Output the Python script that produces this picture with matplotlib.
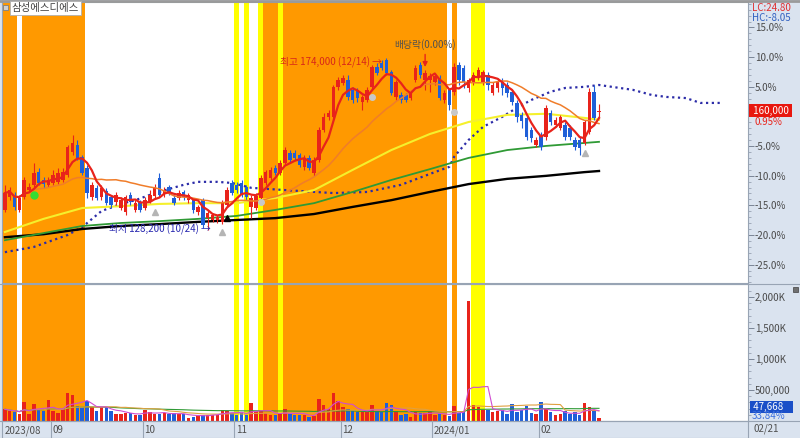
import numpy as np
import pandas as pd
import matplotlib
matplotlib.use("Agg")
import matplotlib.pyplot as plt
import matplotlib.transforms as mtransforms
from matplotlib.lines import Line2D
from matplotlib.patches import Rectangle

plt.rcParams['font.family'] = ['Noto Sans CJK KR', 'DejaVu Sans']

NAME = "삼성에스디에스"
LAST_CLOSE = 160000
CHANGE_PCT = 0.95
LAST_VOLUME_TEXT = "47,668"
VOLUME_RATIO_TEXT = "33.84%"
LC_TEXT = "LC:24.80"
HC_TEXT = "HC:-8.05"
LAST_DATE = "02/21"

# daily candles 2023/08/18 .. 2024/02/21 (KRW)
OPEN = [133500, 136900, 137500, 133500, 136900, 138800, 140200, 143600, 141500, 140200,
        140700, 141000, 141500, 142800, 149000, 150900, 147700, 144700, 136900, 139400,
        136900, 138600, 136900, 135600, 134000, 132900, 137500, 133500, 135600, 134000,
        135600, 137200, 142000, 137700, 139600, 136700, 136700, 138300, 136100, 136100,
        132900, 136100, 131300, 130800, 130800, 130300, 134800, 140700, 140200, 140700,
        139600, 134300, 134000, 136700, 140700, 142000, 144700, 143400, 146000, 148700,
        148700, 148200, 145000, 147400, 143400, 146800, 154900, 158400, 158400, 166400,
        167500, 168300, 165600, 165600, 162400, 162900, 166400, 171700, 172800, 173600,
        170400, 163700, 164200, 164200, 163400, 168300, 172300, 168300, 168300, 167700,
        168800, 162900, 165600, 165100, 172300, 171500, 166100, 167700, 169100, 167700,
        169600, 164800, 166100, 167700, 166900, 165100, 162100, 158900, 158100, 154900,
        150900, 153500, 153000, 159400, 156200, 155400, 156200, 155400, 152200, 152200,
        151400, 154300, 165100, 159700]
HIGH = [140200, 139600, 138300, 137500, 142300, 140700, 146000, 144700, 142300, 142300,
        144200, 144700, 144700, 150900, 153500, 152200, 148200, 145500, 141000, 140200,
        140200, 139400, 137500, 138300, 136900, 137500, 138300, 136100, 136100, 136900,
        138800, 140400, 143400, 139600, 140200, 137500, 138800, 138800, 138000, 136700,
        134800, 136700, 133500, 132700, 132100, 136100, 139600, 141500, 141000, 141500,
        140200, 137500, 138000, 142800, 144200, 145000, 145500, 146800, 150300, 149500,
        149500, 148700, 148200, 148200, 147700, 155700, 159400, 160200, 166900, 169100,
        169600, 169600, 166400, 166100, 164200, 166400, 172300, 172800, 173600, 174000,
        170900, 168300, 165100, 164800, 165600, 172300, 173100, 170900, 170100, 170100,
        169600, 165600, 166100, 172800, 173100, 172300, 168800, 170400, 171700, 170900,
        170400, 167700, 168800, 168800, 167700, 165600, 162900, 159700, 158900, 155700,
        153000, 154300, 161600, 160200, 158400, 158900, 157000, 156200, 153000, 153000,
        157600, 166100, 166900, 161800]
LOW = [132900, 136100, 133500, 132900, 136400, 138300, 139600, 140200, 139400, 139600,
       140200, 140400, 141000, 142300, 148200, 146800, 142800, 136700, 136100, 136100,
       136100, 134800, 134000, 134800, 133500, 132100, 134800, 132900, 132900, 133500,
       135300, 136700, 136900, 136900, 137500, 134800, 136100, 136100, 135300, 132700,
       132100, 128600, 128200, 130300, 130000, 129700, 134300, 137500, 138000, 136900,
       136100, 131300, 133500, 136100, 140200, 141500, 142800, 142800, 145500, 146000,
       146800, 145000, 144200, 144200, 142600, 146300, 154300, 157600, 157600, 165600,
       166900, 162900, 162100, 162400, 160200, 162400, 165600, 169600, 170900, 169600,
       164200, 162900, 162100, 162400, 162900, 167700, 168800, 165600, 165100, 166900,
       162900, 162100, 160200, 164200, 166900, 166100, 165100, 166900, 168300, 166900,
       165600, 164200, 165100, 164200, 163700, 161600, 157000, 155400, 152200, 151700,
       150300, 149500, 152200, 156200, 155700, 154900, 152200, 152200, 149500, 148200,
       150900, 153800, 157600, 158100]
CLOSE = [138000, 138800, 134300, 136700, 141500, 139600, 143400, 140700, 140400, 141500,
         142800, 143400, 143600, 150300, 151400, 147400, 143400, 138000, 140200, 136700,
         139400, 135300, 134800, 137500, 136100, 136900, 135600, 135300, 133500, 136100,
         137500, 139400, 137500, 138800, 138000, 135300, 138000, 136900, 137500, 133500,
         134300, 129400, 132700, 132100, 131600, 135600, 138800, 138000, 138800, 137500,
         136900, 136700, 137200, 142000, 143600, 144200, 143400, 146000, 149500, 146800,
         147400, 145500, 147400, 144700, 146800, 154900, 158400, 159400, 166400, 168300,
         168800, 163700, 162900, 163400, 163700, 165600, 171700, 170100, 171500, 170100,
         164800, 167700, 162900, 162900, 165100, 171500, 169600, 170100, 169300, 169300,
         163400, 164800, 161600, 171700, 168300, 167700, 168300, 169600, 170900, 170400,
         166900, 166900, 167700, 166100, 164800, 162400, 158400, 157300, 153000, 152700,
         152200, 150300, 160800, 157000, 157600, 158400, 153000, 153000, 150300, 150100,
         157000, 165100, 158100, 160000]
VOLUME = [190000, 160000, 145000, 110000, 300000, 110000, 270000, 180000, 160000, 340000,
          160000, 130000, 190000, 450000, 420000, 240000, 220000, 320000, 220000, 160000,
          220000, 220000, 160000, 110000, 110000, 130000, 130000, 100000, 100000, 180000,
          150000, 110000, 110000, 130000, 110000, 130000, 110000, 110000, 50000, 70000,
          100000, 100000, 100000, 100000, 100000, 180000, 160000, 130000, 100000, 130000,
          90000, 290000, 160000, 160000, 130000, 100000, 90000, 130000, 190000, 110000,
          90000, 100000, 100000, 70000, 80000, 360000, 260000, 190000, 450000, 320000,
          220000, 190000, 160000, 150000, 160000, 160000, 260000, 160000, 150000, 290000,
          260000, 160000, 95000, 110000, 65000, 145000, 130000, 130000, 145000, 95000,
          115000, 95000, 80000, 240000, 130000, 160000, 1935000, 255000, 230000, 180000,
          180000, 145000, 160000, 180000, 110000, 270000, 145000, 180000, 240000, 130000,
          110000, 300000, 195000, 145000, 95000, 110000, 160000, 115000, 145000, 95000,
          290000, 230000, 160000, 47668]

# long moving averages at sample days
MA_IDX = [0, 8, 16, 24, 32, 40, 48, 56, 64, 72, 80, 88, 96, 104, 112, 120, 123]
MA60 = [127600, 131100, 134000, 134500, 135100, 135300, 135300, 136700, 138800,
        144200, 149500, 153800, 157000, 158900, 159200, 158100, 157600]
MA120 = [125400, 127300, 129200, 130000, 130500, 131100, 131900, 133500, 135300,
         138300, 141500, 144400, 147400, 149500, 150600, 151400, 151700]
MA240 = [126200, 127000, 128400, 129200, 129700, 130300, 130800, 131300, 132400,
         134300, 136100, 138300, 140400, 141800, 142600, 143600, 143900]
# leading span (dotted), runs past the last day
SPAN_IDX = [0, 6, 13, 16, 20, 24, 27, 30, 34, 37, 40, 44, 47, 51, 58, 68, 75, 82, 89, 92,
            93, 96, 99, 103, 106, 109, 113, 116, 120, 123, 130, 134, 137, 141, 144, 148]
SPAN = [122200, 123600, 126800, 128900, 133200, 135100, 136100, 137500, 139100, 140200,
        141000, 141000, 140700, 139400, 138800, 138000, 138300, 140200, 143600, 145000,
        147700, 152200, 155700, 158400, 160800, 162900, 165100, 166100, 166400, 166900,
        165600, 164200, 163700, 163400, 162100, 162100]

ORANGE_DAYS = [(0, 2), (4, 16), (54, 56), (58, 91), (93, 93)]
YELLOW_DAYS = [(48, 48), (50, 50), (53, 53), (57, 57), (97, 99)]

MONTH_IDX = [0, 10, 29, 48, 70, 89, 111]
MONTH_LABELS = ["2023/08", "09", "10", "11", "12", "2024/01", "02"]

PCT_TICKS = [15, 10, 5, -5, -10, -15, -20, -25]
VOL_TICKS = [500000, 1000000, 1500000, 2000000]
VOL_LABELS = ["500,000", "1,000K", "1,500K", "2,000K"]

DIV_IDX = 87
GREEN_DOT = (6, 137500)
GRAY_UP_IDX = [31, 45, 120]
GRAY_UP = [132900, 127600, 148700]
GRAY_DOT_IDX = [53, 76, 93]
GRAY_DOT = [135600, 163700, 159700]
BLACK_UP = (46, 131300)

RED = '#e8231b'
BLUE = '#1f5fd8'
PANEL = '#dae3ef'
EDGE = '#98a4b4'

W, H = 800, 438
fig = plt.figure(figsize=(W / 100, H / 100), dpi=100)
fig.patch.set_facecolor(PANEL)


def axes_px(x0, y0, x1, y1):
    return fig.add_axes([x0 / W, 1 - y1 / H, (x1 - x0) / W, (y1 - y0) / H])


def fx(x):
    return x / W


def fy(y):
    return 1 - y / H


ax = axes_px(2, 2, 748, 283)
axv = axes_px(2, 284, 748, 421)
axd = axes_px(2, 421, 748, 438)
XLIM = (-0.6, 153.85)

x = np.arange(len(CLOSE))
o, h, l, c = (np.array(a, dtype=float) for a in (OPEN, HIGH, LOW, CLOSE))
cols = np.where(c >= o, RED, BLUE)

for a in (ax, axv):
    a.set_facecolor('white')
    for s, e in ORANGE_DAYS:
        a.axvspan(s - 0.5, e + 0.5, color='#ff9900', lw=0, zorder=0)
    for s, e in YELLOW_DAYS:
        a.axvspan(s - 0.5, e + 0.5, color='#ffff00', lw=0, zorder=0)
    a.set_xlim(XLIM)
    a.set_xticks([])
    for sp in a.spines.values():
        sp.set_color(EDGE)
        sp.set_linewidth(0.8)

# price panel
base = LAST_CLOSE / (1 + CHANGE_PCT / 100)
ax.set_ylim(base * (1 - 28.1 / 100), base * (1 + 19.3 / 100))

ax.plot(SPAN_IDX, SPAN, color='#2c2ca8', lw=1.6, ls=(0, (1, 1.6)), zorder=2)
ax.plot(MA_IDX, MA240, color='black', lw=1.7, zorder=2)
ax.plot(MA_IDX, MA120, color='#2f9a35', lw=1.3, zorder=2)
ax.plot(MA_IDX, MA60, color='#f5f02c', lw=1.5, zorder=2)

ax.vlines(x, l, h, colors=cols, lw=0.8, zorder=3)
ax.bar(x, np.maximum(np.abs(c - o), 250), bottom=np.minimum(o, c), width=0.72,
       color=cols, lw=0, zorder=4)

close = pd.Series(CLOSE)
ax.plot(x, close.rolling(20, min_periods=1).mean(), color='#f07d2a', lw=1.1, zorder=5)
ax.plot(x, close.rolling(5, min_periods=1).mean(), color=RED, lw=1.6, zorder=5)

ax.plot(*GREEN_DOT, 'o', color='#33dd33', ms=5, zorder=6)
ax.plot(GRAY_UP_IDX, GRAY_UP, '^', color='#b5b5b5', ms=5, zorder=6)
ax.plot(GRAY_DOT_IDX, GRAY_DOT, 'o', color='#c8c8c8', ms=4, zorder=6)
ax.plot(*BLACK_UP, '^', color='black', ms=5, zorder=6)

hi = int(np.argmax(h))
lo = int(np.argmin(l))
ax.annotate("최고 %s (12/14) →" % format(int(h[hi]), ','), xy=(hi, h[hi]),
            xytext=(-3, -3), textcoords='offset points', ha='right', va='center',
            color='#d8261a', fontsize=7, zorder=7)
ax.annotate("최저 %s (10/24) →" % format(int(l[lo]), ','), xy=(lo, l[lo]),
            xytext=(2, 0), textcoords='offset points', ha='right', va='center',
            color='#2828b0', fontsize=7, zorder=7)
ax.annotate("배당락(0.00%)", xy=(DIV_IDX, h[DIV_IDX] + 800), xytext=(0, 16),
            textcoords='offset points', ha='center', va='center', color='#505050',
            fontsize=7, zorder=7,
            arrowprops=dict(arrowstyle='-|>', color='#e8231b', lw=1.0,
                            shrinkA=1, shrinkB=0, mutation_scale=7))

ax.yaxis.tick_right()
ax.set_yticks([base * (1 + p / 100) for p in PCT_TICKS])
ax.set_yticklabels(["%.1f%%" % p for p in PCT_TICKS])
ax.set_yticks([base * (1 + p / 100) for p in range(-28, 20)], minor=True)
ax.tick_params(axis='y', which='major', direction='out', length=4, width=0.7,
               color='#7a8596', pad=1, labelsize=7, labelcolor='#4a4a4a')
ax.tick_params(axis='y', which='minor', direction='out', length=2, width=0.5,
               color='#8a95a6')

blend = mtransforms.blended_transform_factory(ax.transAxes, ax.transData)
ax.text(1.0035, LAST_CLOSE, " 160,000 ", transform=blend, ha='left', va='center',
        color='white', fontsize=7,
        bbox=dict(boxstyle='square,pad=0.15', fc='#e8170f', ec='none'))
ax.annotate("%.2f%%" % CHANGE_PCT, xy=(1.0, LAST_CLOSE), xycoords=blend,
            xytext=(5, -8), textcoords='offset points', ha='left', va='center',
            color='#e8231b', fontsize=7)

# volume panel
axv.set_ylim(0, 2210000)
axv.bar(x, VOLUME, width=0.72, color=cols, lw=0, zorder=3)
vol = pd.Series(VOLUME)
axv.plot(x, vol.rolling(60, min_periods=1).mean(), color='#2f9a35', lw=0.8, zorder=4)
axv.plot(x, vol.rolling(20, min_periods=1).mean(), color='#e0a040', lw=0.8, zorder=4)
axv.plot(x, vol.rolling(5, min_periods=1).mean(), color='#d04cd0', lw=0.8, zorder=4)
axv.yaxis.tick_right()
axv.set_yticks(VOL_TICKS)
axv.set_yticklabels(VOL_LABELS)
axv.set_yticks(np.arange(100000, 2200000, 100000), minor=True)
axv.tick_params(axis='y', which='major', direction='out', length=4, width=0.7,
                color='#7a8596', pad=1, labelsize=7, labelcolor='#4a4a4a')
axv.tick_params(axis='y', which='minor', direction='out', length=2, width=0.5,
                color='#8a95a6')

# date strip
axd.set_facecolor(PANEL)
axd.set_xlim(XLIM)
axd.set_ylim(0, 1)
axd.set_xticks([])
axd.set_yticks([])
for sp in axd.spines.values():
    sp.set_color(EDGE)
    sp.set_linewidth(0.8)
for i, lab in zip(MONTH_IDX, MONTH_LABELS):
    if i > 0:
        axd.axvline(i - 0.5, color=EDGE, lw=0.8)
    axd.text(i - 0.5 + 0.35, 0.45, lab, ha='left', va='center', fontsize=7,
             color='#505050')

# frame lines across the right panel
for yy in (283.5, 421):
    fig.add_artist(Line2D([0, 1], [fy(yy)] * 2, transform=fig.transFigure,
                          color=EDGE, lw=0.8))
fig.add_artist(Line2D([0, 1], [fy(1)] * 2, transform=fig.transFigure,
                      color='#9a9a9a', lw=2))

# header and right-panel readouts
fig.add_artist(Rectangle((fx(3), fy(10)), 5 / W, 5 / H, transform=fig.transFigure,
                         fc='#d0d0d0', ec='#808080', lw=0.6))
fig.text(fx(12), fy(8), NAME, ha='left', va='center', fontsize=7.5, color='#404040',
         bbox=dict(boxstyle='square,pad=0.15', fc='white', ec='#b0b0b0', lw=0.6))
fig.text(fx(752), fy(8), LC_TEXT, ha='left', va='center', fontsize=7, color='#e03030')
fig.text(fx(752), fy(18), HC_TEXT, ha='left', va='center', fontsize=7, color='#3060c0')
fig.text(fx(751), fy(407), " " + LAST_VOLUME_TEXT + "    ", ha='left', va='center',
         fontsize=7, color='white',
         bbox=dict(boxstyle='square,pad=0.1', fc='#1a4fc8', ec='none'))
fig.text(fx(752), fy(416), VOLUME_RATIO_TEXT, ha='left', va='center', fontsize=7,
         color='#3a6fe0')
fig.add_artist(Rectangle((fx(793), fy(292)), 5 / W, 5 / H, transform=fig.transFigure,
                         fc='#707070', ec='#404040', lw=0.5))
fig.text(fx(753), fy(429), LAST_DATE, ha='left', va='center', fontsize=7, color='#505050')

fig.savefig("out.png", dpi=100, facecolor=fig.get_facecolor())
